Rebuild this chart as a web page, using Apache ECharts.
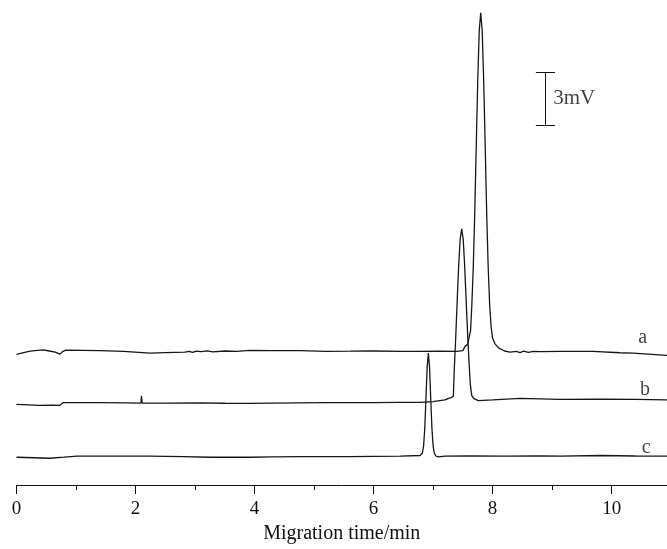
<!DOCTYPE html>
<html>
<head>
<meta charset="utf-8">
<script src="https://cdn.jsdelivr.net/npm/echarts@6/dist/echarts.min.js"></script>
<style>
html,body{margin:0;padding:0;background:#fff;}
#chart{width:667px;height:549px;}
</style>
</head>
<body>
<div id="chart"></div>
<script>
// x: migration time (min), y: signal (mV, traces offset)
var traceA = [
[0.00,7.52],[0.12,7.62],[0.23,7.71],[0.35,7.76],[0.45,7.79],[0.55,7.72],[0.65,7.66],[0.73,7.54],[0.78,7.70],[0.83,7.77],[1.10,7.76],[1.40,7.74],[1.80,7.70],[2.24,7.60],[2.50,7.63],[2.83,7.66],[2.90,7.70],[2.96,7.64],[3.02,7.71],[3.10,7.68],[3.20,7.73],[3.30,7.67],[3.50,7.72],[3.70,7.70],[3.92,7.75],[4.30,7.74],[4.77,7.74],[5.20,7.70],[5.61,7.71],[6.00,7.72],[6.45,7.70],[6.78,7.70],[7.10,7.71],[7.40,7.70],[7.50,7.74],[7.54,8.00],[7.58,8.10],[7.61,8.15],[7.63,8.9],[7.65,10.33],[7.675,12.56],[7.70,15.71],[7.725,19.54],[7.75,23.3],[7.775,26.15],[7.80,27.2],[7.825,26.15],[7.85,23.3],[7.875,19.54],[7.90,15.71],[7.925,12.6],[7.95,10.4],[7.975,9.1],[8.00,8.45],[8.04,8.13],[8.10,7.90],[8.20,7.72],[8.29,7.66],[8.40,7.70],[8.46,7.63],[8.52,7.71],[8.60,7.64],[8.68,7.70],[8.80,7.68],[9.13,7.70],[9.69,7.70],[10.14,7.62],[10.36,7.60],[10.93,7.47]
];
var traceB = [
[0.00,4.65],[0.20,4.62],[0.39,4.59],[0.60,4.60],[0.73,4.59],[0.78,4.74],[1.00,4.75],[1.40,4.74],[1.80,4.73],[2.09,4.72],[2.10,5.14],[2.11,4.72],[2.50,4.72],[3.08,4.73],[3.50,4.71],[3.92,4.70],[4.30,4.72],[4.76,4.73],[5.20,4.74],[5.61,4.74],[6.00,4.75],[6.45,4.76],[6.78,4.76],[7.00,4.80],[7.20,4.90],[7.25,4.98],[7.30,5.03],[7.34,5.10],[7.355,6.6],[7.38,8.5],[7.405,10.65],[7.43,12.66],[7.455,14.18],[7.48,14.76],[7.505,14.18],[7.53,12.66],[7.555,10.65],[7.58,8.69],[7.605,7.0],[7.625,5.8],[7.65,5.15],[7.68,4.99],[7.76,4.86],[8.00,4.90],[8.46,4.99],[9.13,4.93],[9.81,4.95],[10.40,4.93],[10.93,4.90]
];
var traceC = [
[0.00,1.60],[0.30,1.57],[0.56,1.54],[0.80,1.60],[1.02,1.66],[1.60,1.66],[2.24,1.66],[2.80,1.63],[3.25,1.60],[3.92,1.60],[4.30,1.62],[4.76,1.63],[5.20,1.63],[5.61,1.63],[6.00,1.65],[6.45,1.66],[6.78,1.70],[6.80,1.71],[6.82,1.83],[6.84,2.25],[6.86,3.27],[6.88,4.98],[6.90,6.79],[6.92,7.60],[6.94,6.79],[6.96,4.98],[6.98,3.27],[7.00,2.25],[7.02,1.83],[7.05,1.66],[7.09,1.62],[7.20,1.66],[7.60,1.67],[8.20,1.66],[8.80,1.68],[9.13,1.66],[9.81,1.70],[10.40,1.67],[10.93,1.66]
];
var traceNames = ['a', 'b', 'c'];
var traceLabelPos = [[10.52, 8.47], [10.56, 5.50], [10.58, 2.13]];
var xMajorTicks = [0, 2, 4, 6, 8, 10];
var xMinorTicks = [1, 3, 5, 7, 9];
var scaleBarX = 8.887;
var scaleBarRange = [20.75, 23.75]; // 3 mV
var scaleBarText = '3mV';

var FONT = '"Liberation Serif", "Times New Roman", serif';
var lineColor = '#161616';
var X_MAX = 10.93;

function traceSeries(data, name) {
  return {
    name: name, type: 'line', data: data, showSymbol: false, symbol: 'none',
    lineStyle: { color: lineColor, width: 1.3 }, silent: true, animation: false, z: 2
  };
}

var chart = echarts.init(document.getElementById('chart'), null, { renderer: 'canvas' });
var option = {
  backgroundColor: '#fff',
  animation: false,
  grid: { left: 16.5, right: 0, top: 0, bottom: 60, containLabel: false },
  xAxis: [{
    type: 'value', min: 0, max: X_MAX, interval: 2,
    name: 'Migration time/min', nameLocation: 'middle', nameGap: 39,
    nameTextStyle: { fontFamily: FONT, fontSize: 20, color: '#111' },
    axisLine: { show: true, onZero: false, lineStyle: { color: '#111', width: 1 } },
    axisTick: { show: true, inside: false, length: 9, customValues: xMajorTicks, lineStyle: { color: '#111', width: 1 } },
    splitLine: { show: false },
    axisLabel: { fontFamily: FONT, fontSize: 19, color: '#111', margin: 15, customValues: xMajorTicks }
  }, {
    type: 'value', min: 0, max: X_MAX, position: 'bottom',
    axisLine: { show: false, onZero: false },
    axisTick: { show: true, inside: false, length: 5, customValues: xMinorTicks, lineStyle: { color: '#111', width: 1 } },
    splitLine: { show: false },
    axisLabel: { show: false }
  }],
  yAxis: { type: 'value', min: 0, max: 27.94, show: false, splitLine: { show: false } },
  series: [
    traceSeries(traceA, 'a'),
    traceSeries(traceB, 'b'),
    traceSeries(traceC, 'c'),
    {
      name: 'labels', type: 'scatter', symbolSize: 0, silent: true, animation: false,
      data: traceLabelPos.map(function (p, i) { return { value: p, name: traceNames[i] }; }),
      label: { show: true, position: 'inside', formatter: '{b}', fontFamily: FONT, fontSize: 20, color: '#111' }
    },
    {
      name: 'scalebar', type: 'line', data: [], silent: true, animation: false,
      markLine: {
        silent: true, symbol: 'none', animation: false,
        label: { show: false },
        lineStyle: { color: '#111', width: 1, type: 'solid' },
        data: [
          [{ coord: [scaleBarX, scaleBarRange[0]] }, { coord: [scaleBarX, scaleBarRange[1]] }],
          [{ coord: [scaleBarX - 0.16, scaleBarRange[0]] }, { coord: [scaleBarX + 0.16, scaleBarRange[0]] }],
          [{ coord: [scaleBarX - 0.16, scaleBarRange[1]] }, { coord: [scaleBarX + 0.16, scaleBarRange[1]] }]
        ]
      }
    },
    {
      name: 'scaletext', type: 'scatter', symbolSize: 0, silent: true, animation: false,
      data: [{ value: [scaleBarX + 0.13, (scaleBarRange[0] + scaleBarRange[1]) / 2], name: scaleBarText }],
      label: { show: true, position: 'right', distance: 0, formatter: '{b}', fontFamily: FONT, fontSize: 21, color: '#111' }
    }
  ]
};
chart.setOption(option);
</script>
</body>
</html>
